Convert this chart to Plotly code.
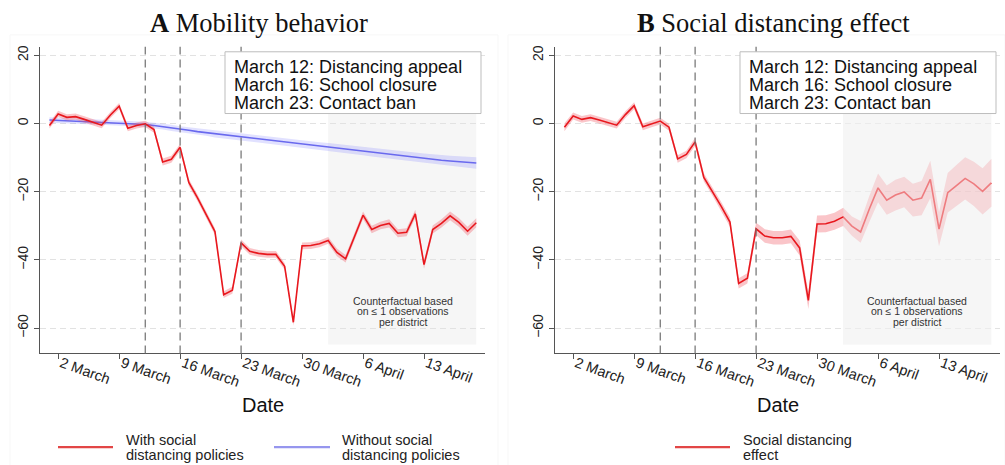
import pandas as pd
import plotly.graph_objects as go

# ---- data -------------------------------------------------------------
dates = pd.date_range("2020-03-01", "2020-04-19", freq="D")

# Panel A: mobility with policies (observed) and without (counterfactual)
with_policies = [
    -0.6, 2.8, 1.8, 2.0, 1.2, 0.4, -0.5, 2.5, 5.1, -1.4,
    -0.6, -0.1, -1.8, -11.3, -10.5, -7.0, -17.3, -21.8, -26.7, -31.7,
    -50.2, -48.9, -35.0, -37.5, -38.1, -38.4, -38.4, -41.9, -58.3, -35.9,
    -35.8, -35.3, -34.3, -37.8, -39.7, -33.2, -26.9, -31.1, -29.9, -29.3,
    -32.2, -31.9, -26.5, -41.4, -31.1, -29.3, -27.1, -29.0, -31.6, -29.1,
]
with_policies_ci = [
    0.9, 0.9, 0.9, 0.9, 0.9, 0.9, 0.9, 0.9, 0.9, 0.9,
    0.9, 0.9, 0.9, 1.0, 1.0, 1.0, 1.0, 1.0, 1.0, 1.0,
    1.0, 1.0, 1.0, 1.0, 1.0, 1.0, 1.0, 1.0, 1.0, 1.0,
    1.0, 1.0, 1.0, 1.1, 1.1, 1.1, 1.1, 1.1, 1.1, 1.2,
    1.2, 1.2, 1.2, 1.2, 1.2, 1.2, 1.3, 1.3, 1.3, 1.3,
]
without_policies = [
    1.0, 0.9, 0.8, 0.7, 0.6, 0.5, 0.4, 0.3, 0.2, 0.1,
    -0.1, -0.3, -0.6, -0.9, -1.3, -1.7, -2.0, -2.4, -2.7, -3.1,
    -3.4, -3.7, -4.0, -4.3, -4.6, -4.9, -5.2, -5.5, -5.8, -6.1,
    -6.4, -6.6, -6.9, -7.2, -7.5, -7.8, -8.1, -8.4, -8.7, -9.0,
    -9.3, -9.6, -9.9, -10.2, -10.5, -10.8, -11.0, -11.2, -11.4, -11.6,
]
without_policies_ci = [
    0.8, 0.8, 0.8, 0.8, 0.8, 0.8, 0.8, 0.8, 0.8, 0.8,
    0.8, 0.8, 0.8, 0.9, 0.9, 0.9, 0.9, 0.9, 0.9, 1.0,
    1.0, 1.0, 1.0, 1.0, 1.0, 1.0, 1.0, 1.1, 1.1, 1.1,
    1.1, 1.1, 1.2, 1.2, 1.2, 1.2, 1.2, 1.3, 1.3, 1.3,
    1.3, 1.4, 1.4, 1.4, 1.5, 1.5, 1.5, 1.6, 1.6, 1.7,
]

# Panel B: estimated social distancing effect
effect = [
    -1.1, 2.2, 1.2, 1.7, 1.0, 0.2, -0.5, 2.6, 5.2, -1.0,
    -0.1, 0.7, -1.1, -10.4, -9.1, -5.4, -15.8, -19.9, -24.3, -28.9,
    -46.9, -45.4, -30.9, -33.0, -33.5, -33.5, -33.1, -36.5, -51.9, -29.5,
    -29.4, -28.7, -27.4, -30.1, -31.8, -25.1, -18.9, -22.5, -21.0, -20.1,
    -22.5, -21.9, -16.4, -31.0, -20.3, -18.2, -16.1, -17.7, -19.9, -17.4,
]
effect_ci = [
    1.2, 1.0, 1.0, 1.0, 1.0, 1.0, 1.0, 1.0, 1.0, 1.0,
    1.0, 1.0, 1.0, 1.1, 1.1, 1.2, 1.2, 1.3, 1.3, 1.4,
    1.5, 1.5, 1.8, 2.0, 2.0, 2.0, 2.0, 2.2, 2.5, 2.5,
    2.5, 2.5, 2.7, 2.8, 3.2, 3.8, 4.2, 4.3, 4.5, 4.5,
    4.8, 5.0, 5.5, 5.0, 5.8, 6.0, 6.2, 6.5, 6.8, 7.0,
]

tick_dates = ["2020-03-02", "2020-03-09", "2020-03-16", "2020-03-23",
              "2020-03-30", "2020-04-06", "2020-04-13"]
tick_labels = ["2 March", "9 March", "16 March", "23 March",
               "30 March", "6 April", "13 April"]
y_ticks = [-60, -40, -20, 0, 20]

policy_dates = ["2020-03-12", "2020-03-16", "2020-03-23"]
policy_labels = ["March 12: Distancing appeal",
                 "March 16: School closure",
                 "March 23: Contact ban"]

low_obs_start, low_obs_end = "2020-04-02", "2020-04-19"
low_obs_note = ["Counterfactual based", "on \u2264 1 observations", "per district"]

# ---- style ------------------------------------------------------------
W, H = 1005, 465
SANS = "Liberation Sans, Arial, sans-serif"
SERIF = "Liberation Serif, Times New Roman, serif"
RED = "rgb(232,24,30)"
RED_BAND = "rgba(240,80,90,0.33)"
BLUE = "rgb(105,105,238)"
BLUE_BAND = "rgba(120,120,255,0.22)"
X_RANGE = ["2020-02-28 22:00", "2020-04-20 00:00"]
Y_RANGE = [-67.45, 22.48]


def px(x):
    return x / W


def py(y):
    return 1 - y / H


fig = go.Figure()


def add_series(values, ci, color, band, xa, ya):
    upper = [v + c for v, c in zip(values, ci)]
    lower = [v - c for v, c in zip(values, ci)]
    fig.add_trace(go.Scatter(
        x=list(dates) + list(dates[::-1]), y=upper + lower[::-1],
        fill="toself", fillcolor=band, line=dict(width=0),
        mode="lines", hoverinfo="skip", showlegend=False,
        xaxis=xa, yaxis=ya))
    fig.add_trace(go.Scatter(
        x=dates, y=values, mode="lines",
        line=dict(color=color, width=1.6),
        showlegend=False, xaxis=xa, yaxis=ya))


add_series(without_policies, without_policies_ci, BLUE, BLUE_BAND, "x", "y")
add_series(with_policies, with_policies_ci, RED, RED_BAND, "x", "y")
add_series(effect, effect_ci, RED, RED_BAND, "x2", "y2")

axis_common = dict(
    showline=True, linecolor="#555", linewidth=1, mirror=False,
    ticks="outside", ticklen=5, tickcolor="#555", zeroline=False,
)
xaxis_style = dict(
    axis_common, type="date", range=X_RANGE, tickvals=tick_dates,
    ticktext=tick_labels, tickangle=20, showgrid=False,
    ticklabelstandoff=-10, ticklabelshift=3,
    tickfont=dict(family=SANS, size=14.5, color="#222"),
)
yaxis_style = dict(
    axis_common, range=Y_RANGE, tickvals=y_ticks, tickangle=-90,
    showgrid=True, gridcolor="#e2e2e2", gridwidth=1, griddash="6px,4px",
    tickfont=dict(family=SANS, size=14, color="#222"),
)
Y_DOM = [py(353), py(45)]

fig.update_layout(
    width=W, height=H, margin=dict(l=0, r=0, t=0, b=0),
    paper_bgcolor="white", plot_bgcolor="white", showlegend=False,
    xaxis=dict(xaxis_style, domain=[px(40), px(485)], anchor="y"),
    yaxis=dict(yaxis_style, domain=Y_DOM, anchor="x"),
    xaxis2=dict(xaxis_style, domain=[px(555), px(1000)], anchor="y2"),
    yaxis2=dict(yaxis_style, domain=Y_DOM, anchor="x2"),
)

shapes = []
annotations = []

panels = [
    dict(xa="x", ya="y", left=40, right=485, title="<b>A</b> Mobility behavior",
         title_x=259, box=(225, 481), note_x=403, shade_above=False, frame=(10, 498),
         legend=[(58, 113, "rgb(226,70,70)", 124, ["With social", "distancing policies"]),
                 (274, 330, "rgb(150,150,238)", 340, ["Without social", "distancing policies"])]),
    dict(xa="x2", ya="y2", left=555, right=1000, title="<b>B</b> Social distancing effect",
         title_x=773, box=(740, 996), note_x=917, shade_above=True, frame=(508, 1005),
         legend=[(675, 730, "rgb(226,70,70)", 741, ["Social distancing", "effect"])]),
]

for p in panels:
    xa, ya = p["xa"], p["ya"]
    # faint graph-region frame
    fx0, fx1 = p["frame"]
    shapes.append(dict(type="rect", xref="paper", yref="paper", x0=px(fx0), x1=px(fx1),
                       y0=py(466), y1=py(33), line=dict(color="#f7f7f7", width=1),
                       layer="below"))
    # low-observation period
    shapes.append(dict(type="rect", xref=xa, yref=ya, x0=low_obs_start, x1=low_obs_end,
                       y0=-64.8, y1=3.0, fillcolor="#f6f6f6", line=dict(width=0),
                       layer="below"))
    if p["shade_above"]:
        shapes.append(dict(type="rect", xref=xa, yref=ya, x0=low_obs_start, x1=low_obs_end,
                           y0=-64.8, y1=3.0, fillcolor="rgba(246,246,246,0.45)",
                           line=dict(width=0), layer="above"))
    for i, line in enumerate(low_obs_note):
        annotations.append(dict(xref="paper", yref="paper", x=px(p["note_x"]),
                                y=py(300 + 10.5 * i), text=line, showarrow=False,
                                xanchor="center", yanchor="middle",
                                font=dict(family=SANS, size=10.5, color="#333")))
    # policy dates
    for d in policy_dates:
        shapes.append(dict(type="line", xref=xa, yref=ya + " domain", x0=d, x1=d,
                           y0=0, y1=1, line=dict(color="#707070", width=1.2,
                                                 dash="8px,5px"), layer="above"))
    # policy text box
    bx0, bx1 = p["box"]
    shapes.append(dict(type="rect", xref="paper", yref="paper", x0=px(bx0), x1=px(bx1),
                       y0=py(112), y1=py(50), fillcolor="white",
                       line=dict(color="#bdbdbd", width=1), layer="above"))
    for i, line in enumerate(policy_labels):
        annotations.append(dict(xref="paper", yref="paper", x=px(bx0 + 7),
                                y=py(65 + 18.4 * i), text=line, showarrow=False,
                                xanchor="left", yanchor="middle",
                                font=dict(family=SANS, size=18, color="#111")))
    # panel title and axis title
    annotations.append(dict(xref="paper", yref="paper", x=px(p["title_x"]), y=py(21),
                            text=p["title"], showarrow=False, xanchor="center",
                            yanchor="middle", font=dict(family=SERIF, size=26.5, color="#111")))
    annotations.append(dict(xref="paper", yref="paper", x=px((p["left"] + p["right"]) / 2),
                            y=py(405), text="Date", showarrow=False, xanchor="center",
                            yanchor="middle", font=dict(family=SANS, size=20, color="#111")))
    # legend keys
    for lx0, lx1, col, tx, lines in p["legend"]:
        shapes.append(dict(type="line", xref="paper", yref="paper", x0=px(lx0), x1=px(lx1),
                           y0=py(447), y1=py(447), line=dict(color=col, width=2.2)))
        for i, line in enumerate(lines):
            annotations.append(dict(xref="paper", yref="paper", x=px(tx), y=py(440 + 15 * i),
                                    text=line, showarrow=False, xanchor="left",
                                    yanchor="middle",
                                    font=dict(family=SANS, size=14.5, color="#222")))

fig.update_layout(shapes=shapes, annotations=annotations)
fig.write_html("out.html")
